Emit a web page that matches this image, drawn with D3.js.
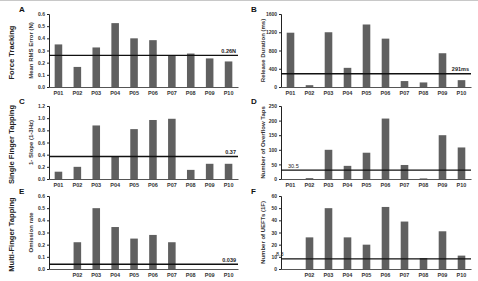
<!DOCTYPE html>
<html>
<head>
<meta charset="utf-8">
<script src="https://cdn.jsdelivr.net/npm/d3@7"></script>
<style>
  body { margin: 0; background: #fff; }
  svg { display: block; font-family: "Liberation Sans", Arial, sans-serif; }
</style>
</head>
<body>
<div id="chart"></div>
<script>
// participants on every x axis
var participants = ["P01", "P02", "P03", "P04", "P05", "P06", "P07", "P08", "P09", "P10"];

// series values (null = no bar / no label)
var forceRms     = [0.35, 0.165, 0.325, 0.525, 0.40, 0.385, 0.26, 0.275, 0.235, 0.21];
var releaseMs    = [1190, 40, 1200, 420, 1370, 1060, 130, 100, 740, 150];
var tapSlope     = [0.12, 0.20, 0.88, 0.37, 0.82, 0.97, 0.99, 0.15, 0.25, 0.25];
var overflowTaps = [0, 3, 100, 45, 90, 207, 48, 2, 150, 108];
var omissionRate = [null, 0.22, 0.50, 0.345, 0.25, 0.28, 0.22, 0, 0, 0];
var ueftCount    = [null, 26, 50, 26, 20, 51, 39, 9, 31, 11];

// tick values for each y axis
var ticksA = [0, 0.1, 0.2, 0.3, 0.4, 0.5, 0.6];
var ticksB = [0, 400, 800, 1200, 1600];
var ticksC = [0, 0.2, 0.4, 0.6, 0.8, 1.0, 1.2];
var ticksD = [0, 50, 100, 150, 200, 250];
var ticksE = [0, 0.1, 0.2, 0.3, 0.4, 0.5, 0.6];
var ticksF = [0, 10, 20, 30, 40, 50, 60];

// healthy-control reference lines
var refValues = [0.26, 291, 0.37, 30.5, 0.039, 8.3];
var refLabels = ["0.26N", "291ms", "0.37", "30.5", "0.039", "8.3"];

var rowTitles = ["Force Tracking", "Single Finger Tapping", "Multi-Finger Tapping"];

var W = 478, H = 281;
var svg = d3.select("#chart").append("svg")
    .attr("width", W).attr("height", H);

// faint top rule
svg.append("line")
    .attr("x1", 0).attr("x2", W).attr("y1", 0.5).attr("y2", 0.5)
    .attr("stroke", "#c8c8c8").attr("stroke-width", 1);

var cols = [{x0: 49, x1: 238}, {x0: 281, x1: 471}];
var rows = [{top: 14, base: 87}, {top: 106, base: 179}, {top: 196, base: 269}];

var panels = [
    {letter: "A", col: 0, row: 0, values: forceRms, ticks: ticksA, fmt: d3.format(".1f"),
     ylabel: "Mean RMS Error (N)", refSide: "right", skipFirst: false},
    {letter: "B", col: 1, row: 0, values: releaseMs, ticks: ticksB, fmt: d3.format("d"),
     ylabel: "Release Duration (ms)", refSide: "right", skipFirst: false},
    {letter: "C", col: 0, row: 1, values: tapSlope, ticks: ticksC, fmt: d3.format(".1f"),
     ylabel: "1- Slope (1-3Hz)", refSide: "right", skipFirst: false},
    {letter: "D", col: 1, row: 1, values: overflowTaps, ticks: ticksD, fmt: d3.format("d"),
     ylabel: "Number of Overflow Taps", refSide: "left", refDx: 7, skipFirst: false},
    {letter: "E", col: 0, row: 2, values: omissionRate, ticks: ticksE, fmt: d3.format(".1f"),
     ylabel: "Omission rate", refSide: "right", skipFirst: true},
    {letter: "F", col: 1, row: 2, values: ueftCount, ticks: ticksF, fmt: d3.format("d"),
     ylabel: "Number of UEFTs (1F)", refSide: "left", refDx: -5, skipFirst: true}
];

panels.forEach(function(p, i) {
    var c = cols[p.col], r = rows[p.row];

    var x = d3.scaleBand()
        .domain(participants)
        .range([c.x0, c.x1])
        .paddingInner(0.6)
        .paddingOuter(0.3);

    var y = d3.scaleLinear()
        .domain([0, d3.max(p.ticks)])
        .range([r.base, r.top]);

    var g = svg.append("g");

    // bars
    g.selectAll(".bar")
        .data(participants.map(function(d, k) { return {name: d, v: p.values[k]}; })
              .filter(function(d) { return d.v !== null && d.v > 0; }))
        .enter().append("rect")
        .attr("class", "bar")
        .attr("x", function(d) { return x(d.name); })
        .attr("y", function(d) { return y(d.v); })
        .attr("width", x.bandwidth())
        .attr("height", function(d) { return r.base - y(d.v); })
        .style("fill", "#606060");

    // y axis
    var ya = g.append("g")
        .attr("transform", "translate(" + c.x0 + ",0)")
        .call(d3.axisLeft(y).tickValues(p.ticks).tickFormat(p.fmt).tickSize(2).tickPadding(2));
    ya.select(".domain").attr("stroke", "#222").attr("stroke-width", 1);
    ya.selectAll(".tick line").attr("stroke", "#222");
    ya.selectAll("text")
        .style("font-size", "5px").style("font-weight", "bold").attr("fill", "#333");

    // x axis (no tick marks, just the baseline and labels)
    var xa = g.append("g")
        .attr("transform", "translate(0," + r.base + ")")
        .call(d3.axisBottom(x).tickSize(0).tickPadding(4)
            .tickFormat(function(d, k) { return (p.skipFirst && k === 0) ? "" : d; }));
    xa.select(".domain").attr("stroke", "#555").attr("stroke-width", 1.2);
    xa.selectAll("text")
        .style("font-size", "5.5px").style("font-weight", "bold").attr("fill", "#333");

    // reference line
    var yr = y(refValues[i]);
    g.append("line")
        .attr("x1", c.x0).attr("x2", c.x1)
        .attr("y1", yr).attr("y2", yr)
        .attr("stroke", "#111").attr("stroke-width", 1.4);

    g.append("text")
        .attr("x", p.refSide === "right" ? c.x1 - 2 : c.x0 + p.refDx)
        .attr("y", yr - 2.5)
        .attr("text-anchor", p.refSide === "right" ? "end" : "start")
        .style("font-size", "5.5px").style("font-weight", p.refSide === "right" ? "bold" : "normal")
        .attr("fill", "#222")
        .text(refLabels[i]);

    // y axis title
    g.append("text")
        .attr("transform", "translate(" + (c.x0 - 16) + "," + ((r.top + r.base) / 2) + ") rotate(-90)")
        .attr("text-anchor", "middle")
        .style("font-size", "6px").style("font-weight", "bold").attr("fill", "#333")
        .text(p.ylabel);

    // panel letter
    g.append("text")
        .attr("x", c.x0 - 30)
        .attr("y", r.top - 2)
        .style("font-size", "8px").style("font-weight", "bold").attr("fill", "#111")
        .text(p.letter);
});

// row titles on the far left
rowTitles.forEach(function(t, k) {
    var r = rows[k];
    svg.append("text")
        .attr("transform", "translate(14," + ((r.top + r.base) / 2 + 2) + ") rotate(-90)")
        .attr("text-anchor", "middle")
        .style("font-size", "7.6px").style("font-weight", "bold").attr("fill", "#222")
        .text(t);
});
</script>
</body>
</html>
